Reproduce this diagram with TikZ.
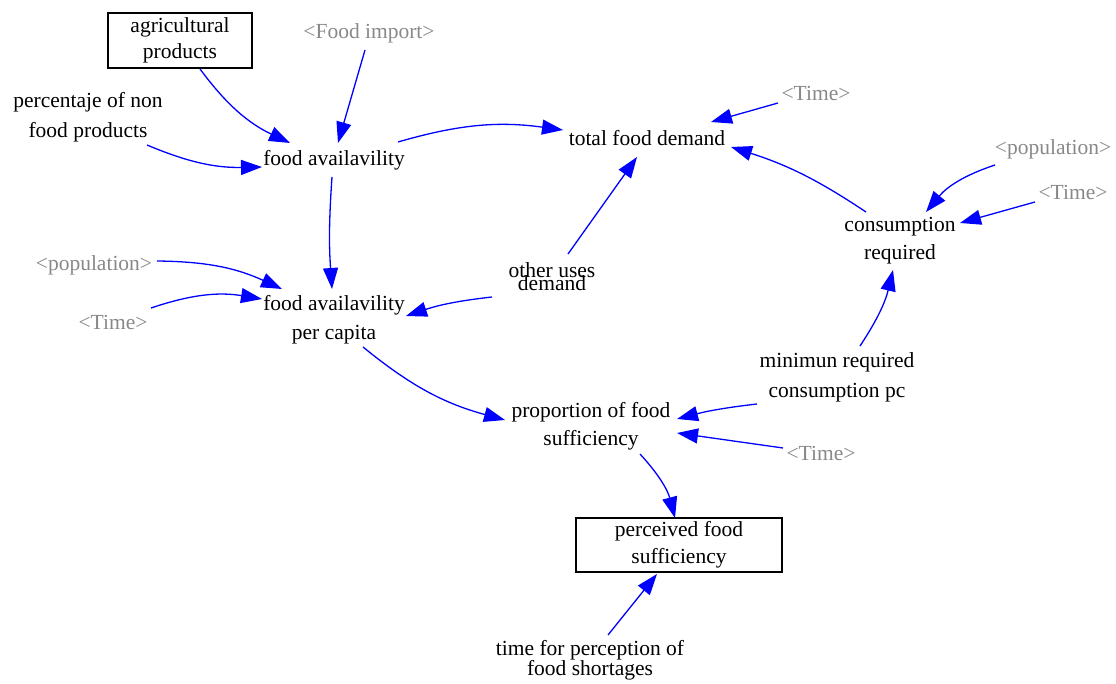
\documentclass[tikz,border=0pt]{standalone}
\usepackage{fontspec}
\setmainfont{Liberation Serif}
\usetikzlibrary{arrows.meta,calc}
\definecolor{gy}{RGB}{136,136,136}
\definecolor{bl}{RGB}{0,0,255}
\begin{document}
\begin{tikzpicture}[x=1pt,y=-1pt,
  txt/.style={font={\fontsize{21.5}{#1}\selectfont\lineskiplimit=-50pt}, align=center, inner sep=0pt},
  txt/.default=28,
  shadowvar/.style={txt, text=gy},
  levelbox/.style={txt=#1, draw, line width=1.2pt, inner sep=0pt},
  arr/.style={draw=bl, line width=1.3pt, -{Triangle[length=21pt,width=15pt]}}]
\useasboundingbox (0,0) rectangle (1116,684);

% nodes
\node[levelbox=26, minimum width=144pt, minimum height=55pt] (agri) at (180,40.5) {agricultural\\products};
\node[shadowvar] (fimp) at (369,33) {<Food import>};
\node[txt=30] (pct) at (88,117) {percentaje of non\\food products};
\node[txt] (fa) at (334,160) {food availavility};
\node[txt] (tfd) at (647,138) {total food demand};
\node[shadowvar] (t1) at (816,93) {<Time>};
\node[shadowvar] (pop1) at (1053,149) {<population>};
\node[shadowvar] (t2) at (1073,192) {<Time>};
\node[txt=28] (cr) at (900,241) {consumption\\required};
\node[txt=13] (ou) at (552,276.5) {other uses\\demand};
\node[shadowvar] (pop2) at (94,265) {<population>};
\node[shadowvar] (t3) at (113,322) {<Time>};
\node[txt=29] (fapc) at (334,319.5) {food availavility\\per capita};
\node[txt=30] (mrc) at (837,377) {minimun required\\consumption pc};
\node[txt=28] (pfs) at (591,426) {proportion of food\\sufficiency};
\node[shadowvar] (t4) at (821,453) {<Time>};
\node[levelbox=27, minimum width=206pt, minimum height=54pt] (pfsb) at (679,545) {perceived food\\sufficiency};
\node[txt=20] (tpfs) at (590,660) {time for perception of\\food shortages};

% connectors
\draw[arr] ($(agri)+(20,28.5)$) to[bend right=14] ($(fa)+(-44,-17)$);
\draw[arr] ($(fimp)+(-4,17)$) -- ($(fa)+(4,-17)$);
\draw[arr] ($(pct)+(59,28)$) to[bend right=12] ($(fa)+(-72,7)$);
\draw[arr] ($(fa)+(64,-18)$) to[bend left=12] ($(tfd)+(-84,-8)$);
\draw[arr] ($(t1)+(-38,10)$) -- ($(tfd)+(64,-16)$);
\draw[arr] ($(cr)+(-34,-29)$) to[bend right=8] ($(tfd)+(84,9)$);
\draw[arr] ($(pop1)+(-58,16)$) to[bend right=16] ($(cr)+(26,-29)$);
\draw[arr] ($(t2)+(-38,10)$) -- ($(cr)+(60,-18)$);
\draw[arr] ($(ou)+(16,-22.5)$) -- ($(tfd)+(-10,19)$);
\draw[arr] ($(fa)+(-2,17)$) to[bend right=4] ($(fapc)+(-2,-30.5)$);
\draw[arr] ($(pop2)+(63,-4)$) to[bend left=12] ($(fapc)+(-52,-30.5)$);
\draw[arr] ($(t3)+(38,-14)$) to[bend left=14] ($(fapc)+(-72,-20.5)$);
\draw[arr] ($(ou)+(-60,20.5)$) to[bend right=6] ($(fapc)+(72,-3.5)$);
\draw[arr] ($(fapc)+(29,27.5)$) to[bend right=12] ($(pfs)+(-86,-6)$);
\draw[arr] ($(mrc)+(-80,27)$) to[bend right=4] ($(pfs)+(86,-7)$);
\draw[arr] ($(t4)+(-38,-5)$) -- ($(pfs)+(86,7)$);
\draw[arr] ($(mrc)+(23,-31)$) to[bend right=10] ($(cr)+(-7,29)$);
\draw[arr] ($(pfs)+(49,28)$) to[bend left=14] ($(pfsb)+(-4,-27)$);
\draw[arr] ($(tpfs)+(18,-25)$) -- ($(pfsb)+(-22,29)$);
\end{tikzpicture}
\end{document}
